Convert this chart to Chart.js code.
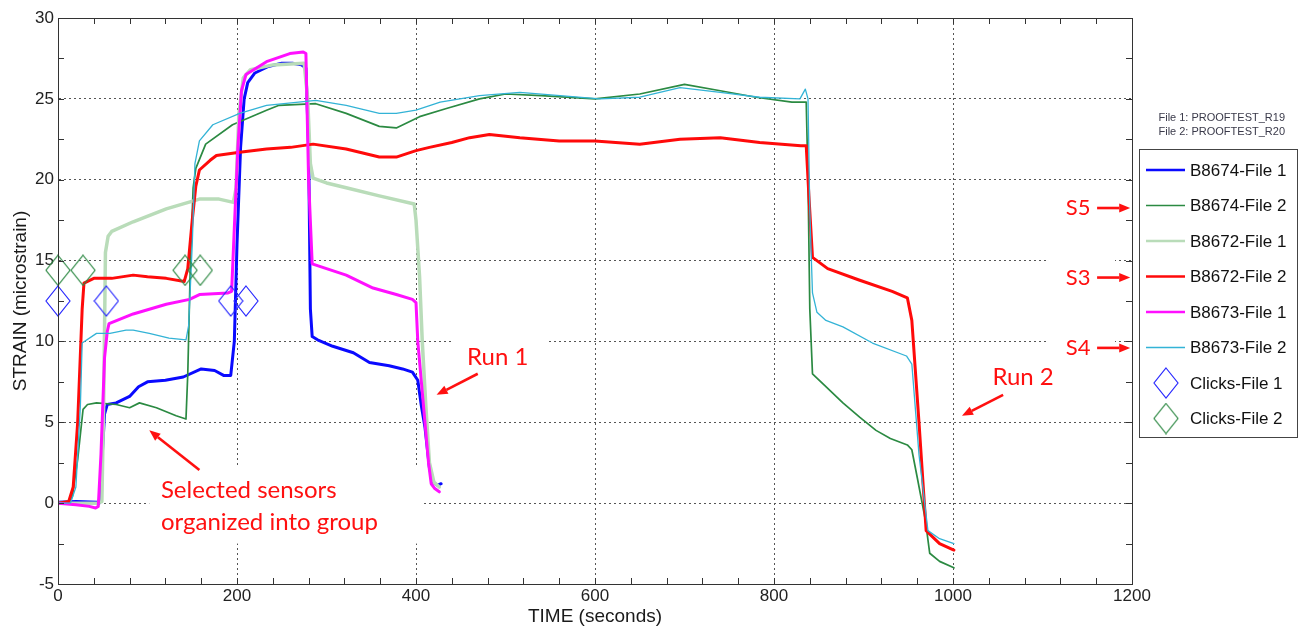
<!DOCTYPE html>
<html>
<head>
<meta charset="utf-8">
<title>Strain vs time</title>
<script src="https://cdn.jsdelivr.net/npm/chart.js@4.4.1/dist/chart.umd.min.js"></script>
<style>
  html, body { margin: 0; padding: 0; background: #fff; }
  canvas { display: block; }
</style>
</head>
<body>
<canvas id="strainChart" width="1299" height="628"></canvas>
<script>
// Values: time (s) and strain (microstrain).
const b8674f1Time = [0, 20, 44, 46, 48, 52, 55, 65, 80, 90, 100, 120, 140, 160, 175, 185, 193, 197, 200, 204, 208, 212, 220, 235, 250, 262, 272, 277, 280, 282, 284, 290, 307, 330, 348, 370, 385, 396, 402, 406, 410, 415, 419, 424, 428];
const b8674f1Strain = [0.05, 0.1, 0.05, 0, 1.5, 5.5, 6.1, 6.2, 6.6, 7.2, 7.5, 7.6, 7.8, 8.3, 8.2, 7.9, 7.9, 10, 16, 22, 25, 26, 26.6, 27, 27.2, 27.2, 27.1, 26.9, 22, 12, 10.3, 10.1, 9.7, 9.3, 8.7, 8.5, 8.3, 8.1, 7.6, 6, 4.7, 2.2, 1.3, 1.1, 1.2];

const b8674f2Time = [0, 12, 16, 22, 28, 33, 43, 65, 80, 91, 110, 132, 143, 145, 148, 151, 154, 165, 195, 233, 247, 288, 322, 359, 378, 404, 434, 471, 500, 540, 600, 650, 700, 740, 780, 820, 836, 838, 840, 843, 858, 877, 896, 914, 930, 949, 954, 960, 969, 974, 985, 1001];
const b8674f2Strain = [0, 0.1, 0.4, 2.7, 5.8, 6.1, 6.2, 6.1, 5.9, 6.2, 5.9, 5.4, 5.2, 8, 15, 19.5, 20.7, 22.2, 23.4, 24.3, 24.6, 24.7, 24.1, 23.3, 23.2, 23.9, 24.4, 25.0, 25.3, 25.2, 25.0, 25.3, 25.9, 25.5, 25.1, 24.8, 24.8, 20, 12, 8.0, 7.2, 6.2, 5.3, 4.5, 4.0, 3.6, 3.3, 1.6, -1.0, -3.1, -3.6, -4.0];

const b8672f1Time = [0, 44, 49, 51, 53, 56, 60, 84, 121, 158, 180, 196, 199, 202, 207, 215, 240, 275, 279, 282, 285, 300, 322, 359, 398, 400, 404, 407, 411, 415, 420, 426];
const b8672f1Strain = [0, 0, 0.1, 6, 15.5, 16.5, 16.8, 17.4, 18.2, 18.8, 18.8, 18.6, 19.5, 24, 26.3, 26.8, 27.1, 27.2, 25, 21, 20.1, 19.8, 19.5, 19.0, 18.5, 17.5, 14, 10, 6, 2.5, 1.3, 1.0];

const b8672f2Time = [0, 12, 17, 22, 27, 29, 40, 60, 84, 100, 121, 141, 145, 150, 154, 158, 170, 177, 203, 233, 260, 285, 322, 359, 378, 400, 415, 440, 460, 482, 516, 560, 600, 650, 695, 740, 784, 830, 836, 839, 843, 860, 895, 932, 949, 954, 962, 970, 985, 1001];
const b8672f2Strain = [0, 0.1, 1, 5, 12, 13.6, 13.9, 13.9, 14.1, 14.0, 13.9, 13.7, 14.5, 17.5, 19.6, 20.6, 21.2, 21.5, 21.7, 21.9, 22.0, 22.2, 21.9, 21.4, 21.4, 21.8, 22.0, 22.3, 22.6, 22.8, 22.6, 22.4, 22.4, 22.2, 22.5, 22.6, 22.3, 22.1, 22.1, 19, 15.2, 14.5, 13.8, 13.1, 12.7, 11.3, 5, -1.7, -2.5, -2.9];

const b8673f1Time = [0, 20, 35, 42, 45, 48, 52, 55, 57, 84, 121, 147, 158, 190, 194, 197, 201, 205, 210, 233, 259, 274, 277, 280, 284, 300, 322, 352, 378, 396, 400, 402, 406, 410, 414, 417, 421, 426];
const b8673f1Strain = [0, -0.1, -0.2, -0.3, -0.2, 3, 9, 10.6, 11.1, 11.7, 12.3, 12.6, 12.9, 13.0, 13.1, 17, 22, 25.5, 26.5, 27.3, 27.8, 27.9, 27.8, 20, 14.8, 14.5, 14.1, 13.3, 12.9, 12.6, 12.4, 10, 7.5, 5.0, 2.5, 1.2, 0.9, 0.7];

const b8673f2Time = [0, 14, 20, 25, 27, 43, 58, 76, 84, 102, 124, 143, 146, 150, 153, 158, 173, 203, 233, 288, 322, 359, 378, 400, 427, 471, 516, 561, 605, 650, 695, 740, 784, 829, 835, 838, 840, 843, 848, 858, 877, 910, 948, 954, 962, 972, 985, 1001];
const b8673f2Strain = [0, 0, 1, 6, 9.9, 10.5, 10.5, 10.7, 10.7, 10.5, 10.2, 10.1, 11, 16, 21, 22.4, 23.4, 24.1, 24.6, 24.9, 24.6, 24.1, 24.1, 24.3, 24.8, 25.2, 25.4, 25.2, 25.0, 25.1, 25.7, 25.4, 25.1, 25.0, 25.6, 25, 18, 13, 11.8, 11.3, 10.9, 9.9, 9.1, 8.6, 3, -1.7, -2.2, -2.5];

const clicksF1Time = [0, 54, 193, 210];
const clicksF1Strain = [12.5, 12.5, 12.5, 12.5];
const clicksF2Time = [0, 28, 142, 159];
const clicksF2Strain = [14.4, 14.4, 14.4, 14.4];

const xTicks = [0, 200, 400, 600, 800, 1000, 1200];
const yTicks = [-5, 0, 5, 10, 15, 20, 25, 30];

const FONT = '"Liberation Sans", Arial, sans-serif';
const NOTE_FONT = 'Lato, "Open Sans", sans-serif';
const NOTE_RED = '#ff1010';

const toPoints = (t, v) => t.map((x, i) => ({x: x, y: v[i]}));

/**
 * Tall outlined diamond used for the click markers.
 */
const diamond = (color) => {
  const c = document.createElement('canvas');
  c.width = 26;
  c.height = 32;
  const g = c.getContext('2d');
  g.strokeStyle = color;
  g.lineWidth = 1.2;
  g.beginPath();
  g.moveTo(13, 1);
  g.lineTo(25, 16);
  g.lineTo(13, 31);
  g.lineTo(1, 16);
  g.closePath();
  g.stroke();
  return c;
};
const blueDiamond = diamond('#2a2aff');
const greenDiamond = diamond('#2f8a45');

const lineSet = (label, t, v, color, width, order) => ({
  label: label,
  data: toPoints(t, v),
  borderColor: color,
  backgroundColor: color,
  borderWidth: width,
  pointRadius: 0,
  tension: 0,
  borderJoinStyle: 'round',
  borderCapStyle: 'round',
  fill: false,
  order: order,
});

const clickSet = (label, t, v, img, color) => ({
  label: label,
  data: toPoints(t, v),
  showLine: false,
  pointStyle: img,
  pointRadius: 13,
  borderColor: color,
  backgroundColor: 'transparent',
  clip: false,
  order: 0,
});

const datasets = [
  lineSet('B8674-File 1', b8674f1Time, b8674f1Strain, '#0a0aff', 3, 6),
  lineSet('B8674-File 2', b8674f2Time, b8674f2Strain, '#2b8a42', 1.7, 5),
  lineSet('B8672-File 1', b8672f1Time, b8672f1Strain, '#b9dcb9', 3.5, 4),
  lineSet('B8672-File 2', b8672f2Time, b8672f2Strain, '#ff0a0a', 3, 3),
  lineSet('B8673-File 1', b8673f1Time, b8673f1Strain, '#ff10ff', 3, 2),
  lineSet('B8673-File 2', b8673f2Time, b8673f2Strain, '#33b3d6', 1.3, 1),
  clickSet('Clicks-File 1', clicksF1Time, clicksF1Strain, blueDiamond, '#2a2aff'),
  clickSet('Clicks-File 2', clicksF2Time, clicksF2Strain, greenDiamond, '#2f8a45'),
];

// Text notes, placed in data units (time, strain).
const notes = [
  {lines: ['Selected sensors', 'organized into group'], t: 115, v: 0.8, size: 24, gap: 2.0,
    arrow: [158, 2.05, 102, 4.5], blank: [102, 2.2, 409, -2.5]},
  {lines: ['Run 1'], t: 457, v: 9.05, size: 24, arrow: [469, 8.0, 423, 6.7], blank: [441, 10.2, 546, 7.9]},
  {lines: ['Run 2'], t: 1044, v: 7.8, size: 24, arrow: [1056, 6.7, 1010, 5.4]},
  {lines: ['S5'], t: 1126, v: 18.25, size: 22, arrow: [1161, 18.25, 1198, 18.25]},
  {lines: ['S3'], t: 1126, v: 13.95, size: 22, arrow: [1161, 13.95, 1198, 13.95], blank: [1104, 15.2, 1181, 12.8]},
  {lines: ['S4'], t: 1126, v: 9.6, size: 22, arrow: [1161, 9.6, 1198, 9.6], blank: [1104, 10.7, 1181, 8.5]},
];

const arrow = (ctx, x1, y1, x2, y2) => {
  const a = Math.atan2(y2 - y1, x2 - x1);
  const len = 11;
  const hw = 4.5;
  const bx = x2 - len * Math.cos(a);
  const by = y2 - len * Math.sin(a);
  ctx.strokeStyle = NOTE_RED;
  ctx.fillStyle = NOTE_RED;
  ctx.lineWidth = 2.6;
  ctx.beginPath();
  ctx.moveTo(x1, y1);
  ctx.lineTo(bx, by);
  ctx.stroke();
  ctx.beginPath();
  ctx.moveTo(x2, y2);
  ctx.lineTo(bx + hw * Math.sin(a), by - hw * Math.cos(a));
  ctx.lineTo(bx - hw * Math.sin(a), by + hw * Math.cos(a));
  ctx.closePath();
  ctx.fill();
};

// White patches behind the notes (they hide the dotted grid, not the data).
const noteBlanks = {
  id: 'noteBlanks',
  beforeDatasetsDraw(chart) {
    const {ctx, scales: {x, y}} = chart;
    ctx.save();
    ctx.fillStyle = '#fff';
    notes.forEach((n) => {
      if (!n.blank) return;
      const [t1, v1, t2, v2] = n.blank;
      const px1 = x.getPixelForValue(t1);
      const py1 = y.getPixelForValue(v1);
      ctx.fillRect(px1, py1, x.getPixelForValue(t2) - px1, y.getPixelForValue(v2) - py1);
    });
    ctx.restore();
  },
};

// Frame, inward ticks, legend box, file names and the red notes.
const decorations = {
  id: 'decorations',
  afterDraw(chart) {
    const {ctx, chartArea: a, scales: {x, y}} = chart;
    ctx.save();
    ctx.strokeStyle = '#333';
    ctx.lineWidth = 1;
    ctx.strokeRect(Math.round(a.left) + 0.5, Math.round(a.top) + 0.5,
        Math.round(a.right - a.left), Math.round(a.bottom - a.top));
    ctx.beginPath();
    for (let t = 0; t <= 1200; t += 40) {
      const px = Math.round(x.getPixelForValue(t)) + 0.5;
      ctx.moveTo(px, a.bottom);
      ctx.lineTo(px, a.bottom - 6);
      ctx.moveTo(px, a.top);
      ctx.lineTo(px, a.top + 6);
    }
    for (let v = -5; v <= 30; v += 2.5) {
      const py = Math.round(y.getPixelForValue(v)) + 0.5;
      ctx.moveTo(a.left, py);
      ctx.lineTo(a.left + 6, py);
      ctx.moveTo(a.right, py);
      ctx.lineTo(a.right - 6, py);
    }
    ctx.stroke();

    // file names above the legend
    ctx.fillStyle = '#3a3a4a';
    ctx.font = '11px ' + FONT;
    ctx.textAlign = 'right';
    ctx.textBaseline = 'middle';
    ctx.fillText('File 1: PROOFTEST_R19', 1285, 118);
    ctx.fillText('File 2: PROOFTEST_R20', 1285, 132);

    // legend
    const lx = 1139;
    const ly = 149;
    ctx.fillStyle = '#fff';
    ctx.fillRect(lx, ly, 158, 288);
    ctx.strokeStyle = '#444';
    ctx.strokeRect(lx + 0.5, ly + 0.5, 158, 288);
    ctx.textAlign = 'left';
    ctx.font = '17px ' + FONT;
    datasets.forEach((ds, i) => {
      const rowY = 170 + i * 35.5;
      if (ds.showLine === false) {
        ctx.drawImage(ds.pointStyle, 1166 - 13, rowY - 16);
      } else {
        ctx.strokeStyle = ds.borderColor;
        ctx.lineWidth = Math.min(ds.borderWidth, 2.5);
        ctx.beginPath();
        ctx.moveTo(1146, rowY);
        ctx.lineTo(1185, rowY);
        ctx.stroke();
      }
      ctx.fillStyle = '#111';
      ctx.fillText(ds.label, 1190, rowY + 1);
    });

    // red notes with arrows
    notes.forEach((n) => {
      ctx.fillStyle = NOTE_RED;
      ctx.font = n.size + 'px ' + NOTE_FONT;
      ctx.textAlign = 'left';
      ctx.textBaseline = 'middle';
      n.lines.forEach((s, k) => {
        ctx.fillText(s, x.getPixelForValue(n.t), y.getPixelForValue(n.v - k * (n.gap || 0)));
      });
      const [t1, v1, t2, v2] = n.arrow;
      arrow(ctx, x.getPixelForValue(t1), y.getPixelForValue(v1),
          x.getPixelForValue(t2), y.getPixelForValue(v2));
    });
    ctx.restore();
  },
};

const chart = new Chart(document.getElementById('strainChart'), {
  type: 'line',
  data: {datasets: datasets},
  plugins: [noteBlanks, decorations],
  options: {
    responsive: false,
    animation: false,
    devicePixelRatio: 1,
    layout: {padding: {left: 0, right: 167, top: 18, bottom: 0}},
    plugins: {
      legend: {display: false},
      tooltip: {enabled: false},
    },
    scales: {
      x: {
        type: 'linear',
        min: 0,
        max: 1200,
        afterBuildTicks: (s) => {
          s.ticks = xTicks.map((v) => ({value: v}));
        },
        afterFit: (s) => {
          s.height = 44;
        },
        ticks: {
          font: {family: FONT, size: 17},
          color: '#222',
          padding: 2,
          maxRotation: 0,
          callback: (v) => String(v),
        },
        grid: {color: '#555', lineWidth: 1, drawTicks: false},
        border: {color: '#333', width: 1, dash: [2, 3]},
        title: {
          display: true,
          text: 'TIME (seconds)',
          font: {family: FONT, size: 19},
          color: '#1a1a1a',
          padding: {top: 0, bottom: 0},
        },
      },
      y: {
        min: -5,
        max: 30,
        afterBuildTicks: (s) => {
          s.ticks = yTicks.map((v) => ({value: v}));
        },
        afterFit: (s) => {
          s.width = 58;
        },
        ticks: {
          font: {family: FONT, size: 17},
          color: '#222',
          padding: 4,
          callback: (v) => String(v),
        },
        grid: {color: '#555', lineWidth: 1, drawTicks: false},
        border: {color: '#333', width: 1, dash: [2, 3]},
        title: {
          display: true,
          text: 'STRAIN (microstrain)',
          font: {family: FONT, size: 19},
          color: '#1a1a1a',
          padding: {top: 9, bottom: 0},
        },
      },
    },
  },
});
</script>
</body>
</html>
